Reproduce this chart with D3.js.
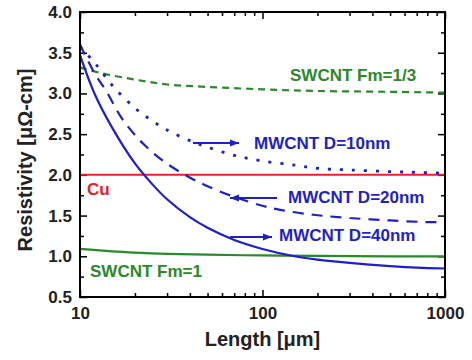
<!DOCTYPE html>
<html lang="en">
  <head>
    <meta charset="UTF-8" />
    <script src="https://d3js.org/d3.v7.min.js"></script>
    <style>
      body { margin: 0; background: #fff; }
      text { font-family: "Liberation Sans", Arial, sans-serif; font-weight: bold; }
      .axis path { display: none; }
      .axis line { stroke: #000; stroke-width: 1.5px; }
      .axis text { font-size: 17px; fill: #222; }
    </style>
    <title>Resistivity vs length</title>
  </head>
  <body>
    <svg id="chart" width="472" height="360"></svg>
    <script>
      // data: [length um, resistivity uOhm-cm]
      const cu = [[10, 2.0], [1000, 2.0]];
      const swcntFm1 = [[10, 1.09], [15, 1.06], [20, 1.045], [30, 1.03], [50, 1.02], [100, 1.01], [200, 1.005], [500, 1.0], [1000, 1.0]];
      const swcntFm13 = [[10, 3.32], [13, 3.25], [20, 3.17], [30, 3.11], [50, 3.08], [100, 3.05], [200, 3.03], [500, 3.02], [1000, 3.01]];
      const mwD10 = [[10, 3.57], [12, 3.38], [15, 3.1], [20, 2.82], [25, 2.66], [30, 2.55], [40, 2.42], [50, 2.34], [70, 2.24], [100, 2.17], [150, 2.12], [200, 2.08], [300, 2.06], [500, 2.04], [700, 2.03], [1000, 2.02]];
      const mwD20 = [[10, 3.6], [12, 3.25], [14, 3.02], [17, 2.69], [22, 2.39], [29, 2.16], [39, 1.98], [50, 1.86], [70, 1.73], [100, 1.62], [125, 1.57], [190, 1.51], [300, 1.47], [500, 1.44], [800, 1.42], [1000, 1.42]];
      const mwD40 = [[10, 3.47], [12, 3.0], [15, 2.58], [20, 2.14], [25, 1.88], [30, 1.7], [40, 1.48], [50, 1.35], [70, 1.2], [100, 1.09], [150, 1.0], [200, 0.96], [300, 0.92], [500, 0.88], [700, 0.86], [1000, 0.85]];

      const xTicks = [10, 100, 1000];
      const yTicks = [0.5, 1.0, 1.5, 2.0, 2.5, 3.0, 3.5, 4.0];

      const blue = "#1f1fc8", green = "#2a8a2a", red = "#e8202c";

      const svg = d3.select("#chart");
      const margin = { top: 12, right: 27, bottom: 63, left: 80 };
      const width = 472 - margin.left - margin.right;
      const height = 360 - margin.top - margin.bottom;

      const x = d3.scaleLog().domain([10, 1000]).range([0, width]);
      const y = d3.scaleLinear().domain([0.5, 4.0]).range([height, 0]);

      const g = svg.append("g").attr("transform", `translate(${margin.left},${margin.top})`);

      // minor ticks
      const xMinor = [];
      [10, 100].forEach(b => { for (let k = 2; k <= 9; k++) xMinor.push(b * k); });
      const yMinor = d3.range(0.75, 4.0, 0.5);

      g.append("g").attr("class", "axis").attr("transform", `translate(0,${height})`)
        .call(d3.axisBottom(x).tickValues(xMinor).tickSize(-4).tickFormat(""));
      g.append("g").attr("class", "axis")
        .call(d3.axisTop(x).tickValues(xMinor).tickSize(-4).tickFormat(""));
      g.append("g").attr("class", "axis")
        .call(d3.axisLeft(y).tickValues(yMinor).tickSize(-4).tickFormat(""));
      g.append("g").attr("class", "axis").attr("transform", `translate(${width},0)`)
        .call(d3.axisRight(y).tickValues(yMinor).tickSize(-4).tickFormat(""));

      // major ticks
      g.append("g").attr("class", "axis").attr("transform", `translate(0,${height})`)
        .call(d3.axisBottom(x).tickValues(xTicks).tickSize(-7).tickPadding(10).tickFormat(d3.format("d")));
      g.append("g").attr("class", "axis")
        .call(d3.axisTop(x).tickValues(xTicks).tickSize(-7).tickFormat(""));
      g.append("g").attr("class", "axis")
        .call(d3.axisLeft(y).tickValues(yTicks).tickSize(-7).tickPadding(8).tickFormat(d3.format(".1f")));
      g.append("g").attr("class", "axis").attr("transform", `translate(${width},0)`)
        .call(d3.axisRight(y).tickValues(yTicks).tickSize(-7).tickFormat(""));

      const line = d3.line().x(d => x(d[0])).y(d => y(d[1])).curve(d3.curveCatmullRom.alpha(0.5));

      const series = [
        { data: cu, color: red, dash: null, w: 2 },
        { data: swcntFm1, color: green, dash: null, w: 2.2 },
        { data: swcntFm13, color: green, dash: "7,5", w: 2.2 },
        { data: mwD10, color: blue, dash: "3,9", w: 2.8 },
        { data: mwD20, color: blue, dash: "11,8", w: 2.2 },
        { data: mwD40, color: blue, dash: null, w: 2.2 }
      ];

      g.selectAll("path.series")
        .data(series)
        .join("path")
        .attr("class", "series")
        .attr("d", d => line(d.data))
        .attr("fill", "none")
        .attr("stroke", d => d.color)
        .attr("stroke-width", d => d.w)
        .attr("stroke-dasharray", d => d.dash);

      // frame
      g.append("rect").attr("width", width).attr("height", height)
        .attr("fill", "none").attr("stroke", "#000").attr("stroke-width", 2);

      // labels
      const labels = [
        { t: "SWCNT Fm=1/3", x: 290, y: 81, c: green },
        { t: "MWCNT D=10nm", x: 254, y: 149, c: blue },
        { t: "Cu", x: 87, y: 195, c: red },
        { t: "MWCNT D=20nm", x: 288, y: 203, c: blue },
        { t: "MWCNT D=40nm", x: 279, y: 241, c: blue },
        { t: "SWCNT Fm=1", x: 90, y: 277, c: green }
      ];
      svg.selectAll("text.lbl")
        .data(labels)
        .join("text")
        .attr("class", "lbl")
        .attr("x", d => d.x)
        .attr("y", d => d.y)
        .attr("fill", d => d.c)
        .style("font-size", "17px")
        .text(d => d.t);

      // arrows [x1, x2, y, head side]
      const arrows = [[193, 239, 143, "right"], [230, 277, 198, "left"], [230, 272, 237, "right"]];
      arrows.forEach(a => {
        svg.append("line").attr("x1", a[0]).attr("x2", a[1]).attr("y1", a[2]).attr("y2", a[2])
          .attr("stroke", blue).attr("stroke-width", 2);
        const tip = a[3] === "right" ? a[1] : a[0];
        const s = a[3] === "right" ? -1 : 1;
        svg.append("path")
          .attr("d", `M${tip},${a[2]} L${tip + s * 9},${a[2] - 3.5} L${tip + s * 9},${a[2] + 3.5} Z`)
          .attr("fill", blue);
      });

      // axis titles
      svg.append("text")
        .attr("x", margin.left + width / 2)
        .attr("y", 346)
        .attr("text-anchor", "middle")
        .style("font-size", "20px")
        .attr("fill", "#222")
        .text("Length [\u03bcm]");
      svg.append("text")
        .attr("transform", "translate(32,160) rotate(-90)")
        .attr("text-anchor", "middle")
        .style("font-size", "20px")
        .attr("fill", "#222")
        .text("Resistivity [\u03bc\u03a9-cm]");
    </script>
  </body>
</html>
